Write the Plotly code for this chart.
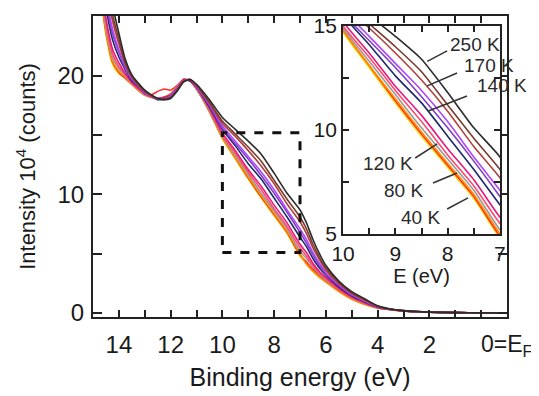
import plotly.graph_objects as go

# Binding energy grid (eV)
energy = [15, 14.75, 14.5, 14.25, 14, 13.75, 13.5, 13.25, 13, 12.75, 12.5, 12.25, 12, 11.75, 11.5,
          11.25, 11, 10.5, 10, 9.5, 9, 8.5, 8, 7.5, 7, 6.75, 6.5, 6.25, 6, 5.5, 5, 4.5, 4, 3.5, 3,
          2.5, 2, 1, 0, -1]

# Intensity (10^4 counts) for each temperature
i_250K = [35, 32, 29, 26, 23.6, 21.4, 20.1, 19.4, 18.8, 18.4, 18.1, 18.0, 18.1, 18.7, 19.5,
          19.7, 19.3, 18.0, 16.5, 15.5, 14.5, 13.4, 11.8, 10.1, 8.7, 7.6, 6.2, 5.0, 4.0, 2.7, 1.8, 1.2, 0.6, 0.33, 0.2,
          0.12, 0.07, 0.03, 0.01, 0]
i_200K = [34.5, 31.3, 28.1, 25.2, 23.1, 21.1, 20.0, 19.3, 18.7, 18.4, 18.1, 18.0, 18.2, 18.8, 19.5,
          19.7, 19.2, 17.8, 16.2, 15.1, 14.0, 12.8, 11.2, 9.6, 8.1, 7.1, 5.8, 4.7, 3.8, 2.6, 1.7, 1.13, 0.57, 0.32, 0.2,
          0.12, 0.07, 0.03, 0.01, 0]
i_170K = [34.2, 30.8, 27.6, 24.7, 22.7, 21.0, 19.9, 19.2, 18.7, 18.3, 18.1, 18.1, 18.2, 18.8, 19.6,
          19.7, 19.2, 17.7, 16.0, 14.9, 13.7, 12.4, 10.9, 9.2, 7.7, 6.7, 5.5, 4.5, 3.6, 2.5, 1.64, 1.08, 0.55, 0.32, 0.19,
          0.11, 0.07, 0.03, 0.01, 0]
i_160K = [33.8, 30.2, 26.8, 24.0, 22.2, 20.8, 19.8, 19.2, 18.6, 18.3, 18.1, 18.1, 18.3, 18.9, 19.6,
          19.7, 19.1, 17.6, 15.8, 14.5, 13.2, 11.9, 10.4, 8.7, 7.1, 6.2, 5.1, 4.2, 3.4, 2.4, 1.56, 1.02, 0.53, 0.31, 0.19,
          0.11, 0.07, 0.03, 0.01, 0]
i_150K = [33.6, 29.8, 26.4, 23.6, 22.0, 20.6, 19.7, 19.1, 18.6, 18.3, 18.0, 18.1, 18.3, 18.9, 19.6,
          19.7, 19.1, 17.5, 15.6, 14.3, 13.0, 11.6, 10.1, 8.5, 6.8, 5.9, 4.9, 4.0, 3.3, 2.3, 1.51, 0.98, 0.51, 0.31, 0.19,
          0.11, 0.07, 0.03, 0.01, 0]
i_140K = [33.3, 29.4, 25.8, 23.1, 21.6, 20.5, 19.6, 19.1, 18.6, 18.3, 18.0, 18.1, 18.3, 18.9, 19.6,
          19.6, 19.1, 17.4, 15.5, 14.1, 12.6, 11.3, 9.7, 8.1, 6.4, 5.6, 4.6, 3.8, 3.2, 2.2, 1.45, 0.94, 0.5, 0.3, 0.18,
          0.11, 0.06, 0.03, 0.01, 0]
i_120K = [32.8, 28.7, 24.9, 22.3, 21.1, 20.2, 19.5, 19.0, 18.5, 18.3, 18.1, 18.2, 18.4, 19.0, 19.7,
          19.6, 19.0, 17.3, 15.2, 13.7, 12.1, 10.7, 9.1, 7.6, 5.8, 5.1, 4.2, 3.5, 3.0, 2.1, 1.36, 0.87, 0.47, 0.3, 0.18,
          0.1, 0.06, 0.03, 0.01, 0]
i_100K = [32.5, 28.3, 24.5, 21.9, 20.8, 20.1, 19.4, 18.9, 18.5, 18.2, 18.1, 18.2, 18.4, 19.0, 19.7,
          19.6, 19.0, 17.2, 15.0, 13.5, 11.9, 10.4, 8.8, 7.3, 5.5, 4.8, 4.0, 3.4, 2.9, 2.0, 1.31, 0.83, 0.45, 0.29, 0.18,
          0.1, 0.06, 0.03, 0.01, 0]
i_80K = [32.3, 28.0, 24.1, 21.6, 20.6, 20.0, 19.4, 18.9, 18.4, 18.2, 18.1, 18.2, 18.5, 19.1, 19.7,
         19.6, 18.9, 17.1, 14.9, 13.3, 11.7, 10.1, 8.6, 7.1, 5.2, 4.6, 3.9, 3.3, 2.8, 2.0, 1.27, 0.8, 0.44, 0.29, 0.17,
         0.1, 0.06, 0.03, 0.01, 0]
i_60K = [32.2, 27.7, 23.8, 21.3, 20.4, 19.9, 19.3, 18.8, 18.4, 18.2, 18.1, 18.2, 18.5, 19.1, 19.7,
         19.6, 18.9, 17.1, 14.8, 13.1, 11.5, 9.9, 8.4, 6.9, 5.0, 4.1, 3.5, 3.0, 2.6, 1.8, 1.15, 0.72, 0.42, 0.28, 0.17,
         0.1, 0.06, 0.03, 0.01, 0]
i_50K = [32.1, 27.6, 23.7, 21.2, 20.3, 19.8, 19.3, 18.8, 18.4, 18.4, 18.7, 18.9, 18.8, 19.2, 19.7,
         19.6, 18.9, 17.0, 14.8, 13.1, 11.4, 9.8, 8.3, 6.8, 4.9, 4.3, 3.7, 3.2, 2.7, 1.9, 1.22, 0.76, 0.43, 0.28, 0.17,
         0.1, 0.06, 0.03, 0.01, 0]
i_40K = [32, 27.5, 23.5, 21.0, 20.2, 19.8, 19.3, 18.8, 18.4, 18.2, 18.1, 18.2, 18.5, 19.1, 19.7,
         19.6, 18.9, 17.0, 14.7, 13.0, 11.3, 9.7, 8.2, 6.7, 4.8, 4.2, 3.6, 3.1, 2.7, 1.9, 1.2, 0.75, 0.42, 0.28, 0.17,
         0.1, 0.06, 0.03, 0.01, 0]

series = [
    ("40 K", i_40K, "#eedd00"),
    ("50 K", i_50K, "#ff2a2a"),
    ("60 K", i_60K, "#ff8c00"),
    ("80 K", i_80K, "#9a9a9a"),
    ("100 K", i_100K, "#ff4a6e"),
    ("120 K", i_120K, "#e8197c"),
    ("140 K", i_140K, "#1c2a6b"),
    ("150 K", i_150K, "#7f3fc4"),
    ("160 K", i_160K, "#b044ff"),
    ("170 K", i_170K, "#b0403a"),
    ("200 K", i_200K, "#7a3b2e"),
    ("250 K", i_250K, "#2b2b2b"),
]

# Inset labels: (text, x of left edge, y) and leader lines (x0, y0, x1, y1) in inset data units
inset_labels = [("250 K", 8.0, 14.13), ("170 K", 7.72, 13.08), ("140 K", 7.48, 12.12),
                ("120 K", 9.66, 8.37), ("80 K", 9.25, 7.07), ("40 K", 8.93, 5.77)]
leaders = [(8.01, 13.8, 8.39, 13.3), (7.82, 12.74, 8.39, 12.12), (7.63, 11.63, 8.37, 10.91),
           (8.62, 8.65, 8.2, 9.33), (8.28, 7.45, 7.82, 7.93), (8.01, 6.2, 7.61, 6.73)]

# Zoom window drawn on the main panel
zoom_box = (10, 7, 5.1, 15.2)

FONT = "Liberation Sans, Arial, sans-serif"
AX = "#222222"

fig = go.Figure()
for name, vals, col in series:
    fig.add_trace(go.Scatter(x=energy, y=vals, mode="lines", name=name,
                             line=dict(color=col, width=1.6, shape="spline", smoothing=0.6),
                             xaxis="x", yaxis="y", showlegend=False))
for name, vals, col in series:
    fig.add_trace(go.Scatter(x=energy, y=vals, mode="lines", name=name,
                             line=dict(color=col, width=1.6, shape="spline", smoothing=0.6),
                             xaxis="x2", yaxis="y2", showlegend=False))

main_xt = [14, 13, 12, 11, 10, 9, 8, 7, 6, 5, 4, 3, 2, 1, 0]
main_xtext = ["14", " ", "12", " ", "10", " ", "8", " ", "6", " ", "4", " ", "2", " ", " "]

fig.update_layout(
    width=531, height=388,
    margin=dict(l=85, r=32, t=8, b=79),
    paper_bgcolor="white", plot_bgcolor="white",
    font=dict(family=FONT, color="#1a1a1a", size=22),
    xaxis=dict(range=[15, -1], domain=[0, 1], tickvals=main_xt, ticktext=main_xtext,
               ticks="inside", ticklen=7, tickwidth=2, tickcolor=AX,
               showline=True, linecolor=AX, linewidth=2, mirror="ticks",
               showgrid=False, zeroline=False, tickfont=dict(size=24), ticklabelstandoff=5,
               title=dict(text="Binding energy (eV)", font=dict(size=25), standoff=12),
               automargin=False),
    yaxis=dict(range=[-0.34, 25.06], domain=[0, 1], tickvals=[0, 5, 10, 15, 20],
               ticktext=["0", " ", "10", " ", "20"],
               ticks="inside", ticklen=9, tickwidth=2, tickcolor=AX,
               showline=True, linecolor=AX, linewidth=2, mirror="ticks",
               showgrid=False, zeroline=False, tickfont=dict(size=24), ticklabelstandoff=2,
               title=dict(text="Intensity 10<sup>4</sup> (counts)", font=dict(size=22), standoff=16),
               automargin=False),
    xaxis2=dict(range=[10, 7], domain=[0.604, 0.983], anchor="y2",
                tickvals=[10, 9.5, 9, 8.5, 8, 7.5, 7], ticktext=["10", " ", "9", " ", "8", " ", "7"],
                ticks="inside", ticklen=6, tickwidth=2, tickcolor=AX,
                showline=True, linecolor=AX, linewidth=2, mirror="ticks",
                showgrid=False, zeroline=False, tickfont=dict(size=21),
                title=dict(text="E (eV)", font=dict(size=20), standoff=4),
                automargin=False),
    yaxis2=dict(range=[5, 15], domain=[0.276, 0.967], anchor="x2",
                tickvals=[5, 7.5, 10, 12.5, 15], ticktext=["5", " ", "10", " ", "15"],
                ticks="inside", ticklen=6, tickwidth=2, tickcolor=AX,
                showline=True, linecolor=AX, linewidth=2, mirror="ticks",
                showgrid=False, zeroline=False, tickfont=dict(size=21),
                automargin=False),
)

x0, x1, y0, y1 = zoom_box
fig.add_shape(type="rect", xref="x", yref="y", x0=x0, x1=x1, y0=y0, y1=y1,
              line=dict(color="#111111", width=3, dash="dash"))

for (a, b, c, d) in leaders:
    fig.add_shape(type="line", xref="x2", yref="y2", x0=a, y0=b, x1=c, y1=d,
                  line=dict(color="#333333", width=1.5))

for text, x, y in inset_labels:
    fig.add_annotation(x=x, y=y, xref="x2", yref="y2", text=text, showarrow=False,
                       font=dict(size=19, color="#2a2a2a"), xanchor="left", yanchor="middle")

fig.add_annotation(x=0.1, y=-0.096, xref="x", yref="paper", text="0=E<sub>F</sub>",
                   showarrow=False, xanchor="left", yanchor="middle",
                   font=dict(size=23, color="#1a1a1a"))

fig.write_html("out.html")
